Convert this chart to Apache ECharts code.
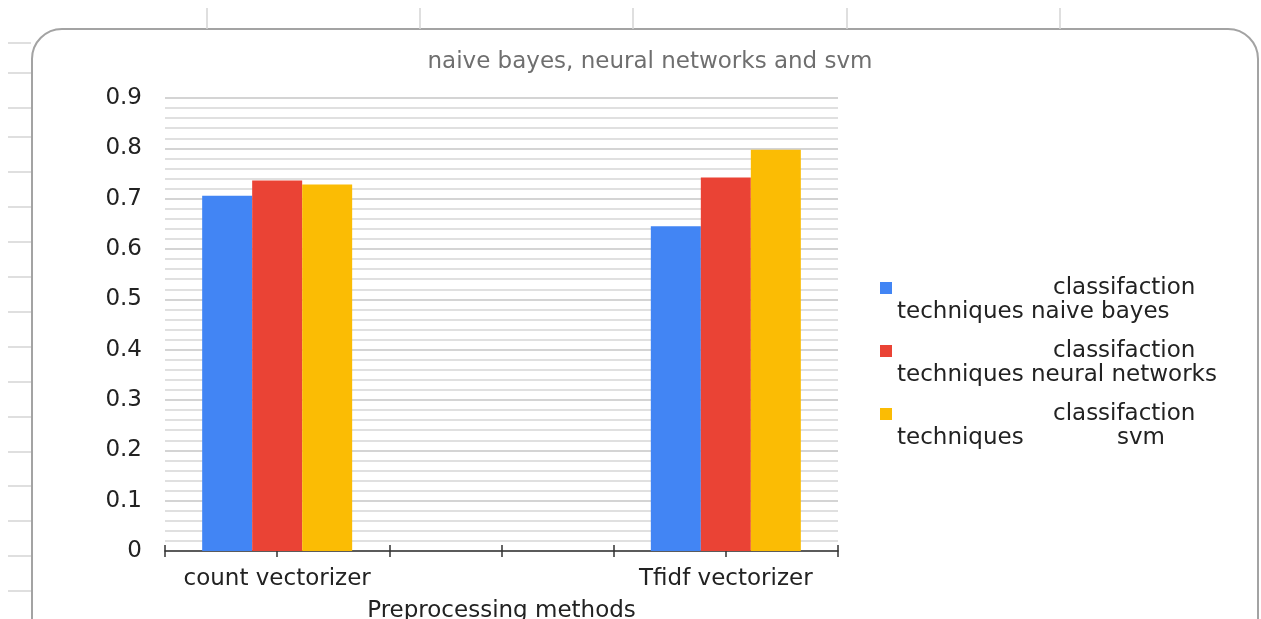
<!DOCTYPE html>
<html>
<head>
<meta charset="utf-8">
<script src="https://cdn.jsdelivr.net/npm/echarts@6/dist/echarts.min.js"></script>
<style>
  html, body { margin: 0; padding: 0; background: #fff; }
  #chart { width: 1261px; height: 619px; }
</style>
</head>
<body>
<div id="chart"></div>
<script>
// 数据
const categories = ['count vectorizer', '', 'Tfidf vectorizer']
const seriesNames = [
  'classifaction techniques naive bayes',
  'classifaction techniques neural networks',
  'classifaction techniques svm'
]
const naiveBayes = [0.706, null, 0.645]
const neuralNetworks = [0.736, null, 0.742]
const svm = [0.728, null, 0.797]
const seriesColors = ['#4285F4', '#EA4335', '#FBBC04']
const yMin = 0
const yMax = 0.9
const yStep = 0.1
// 半格刻度：每个类别中间也有一根刻度
const tickSlots = ['', '', '', '', '', '']

const FONT = 'DejaVu Sans'

// 背景里的表格线（装饰）
const sheetCols = [207, 420, 633, 847, 1060]
const sheetRows = [43, 73, 108, 137, 172, 207, 242, 277, 312, 347, 382, 417, 452, 486, 521, 556, 591]

const decor = [
  {
    type: 'rect',
    z: -10,
    shape: { x: 32, y: 29, width: 1226, height: 700, r: 30 },
    style: { fill: 'none', stroke: '#a3a3a3', lineWidth: 2 }
  }
]
sheetCols.forEach(x => decor.push({
  type: 'line', z: -10,
  shape: { x1: x, y1: 8, x2: x, y2: 29 },
  style: { stroke: '#d4d4d4', lineWidth: 1.5 }
}))
sheetRows.forEach(y => decor.push({
  type: 'line', z: -10,
  shape: { x1: 8, y1: y, x2: 31, y2: y },
  style: { stroke: '#d4d4d4', lineWidth: 1.5 }
}))

function legendText(name) {
  const rest = name.replace('classifaction techniques ', '')
  if (rest === 'svm') return '\n{p| }{w|classifaction}\n{t|techniques}{w|svm}'
  return '\n{p| }{w|classifaction}\n{w|techniques ' + rest + '}'
}

const option = {
  backgroundColor: '#fff',
  animation: false,
  textStyle: { fontFamily: FONT },
  title: {
    text: 'naive bayes, neural networks and svm',
    left: 645,
    top: 46,
    textAlign: 'center',
    textStyle: { fontFamily: FONT, fontSize: 23, fontWeight: 'normal', color: '#6f6f6f' }
  },
  legend: {
    orient: 'vertical',
    left: 875,
    top: 247,
    itemWidth: 12,
    itemHeight: 12,
    itemGap: -9,
    icon: 'rect',
    formatter: legendText,
    textStyle: {
      fontFamily: FONT,
      fontSize: 23,
      lineHeight: 24,
      color: '#222',
      rich: {
        p: { width: 156, fontSize: 23, lineHeight: 24 },
        t: { width: 220, fontSize: 23, lineHeight: 24, color: '#222' },
        w: { fontSize: 23, lineHeight: 24, color: '#222' }
      }
    }
  },
  grid: { left: 165, right: 423, top: 98, bottom: 68, outerBoundsMode: 'none' },
  xAxis: [
    {
      type: 'category',
      data: categories,
      axisLine: { show: true, lineStyle: { color: '#333', width: 1.5 } },
      axisTick: { show: false },
      axisLabel: { fontFamily: FONT, fontSize: 23, color: '#222', margin: 17 },
      name: 'Preprocessing methods',
      nameLocation: 'middle',
      nameGap: 49,
      nameTextStyle: { fontFamily: FONT, fontSize: 23, color: '#222' }
    },
    {
      type: 'category',
      data: tickSlots,
      position: 'bottom',
      axisLine: { show: false },
      axisTick: { show: true, length: 6, lineStyle: { color: '#333', width: 1.5 } },
      axisLabel: { show: false }
    },
    {
      type: 'category',
      data: tickSlots,
      position: 'bottom',
      axisLine: { show: false },
      axisTick: { show: true, inside: true, length: 6, lineStyle: { color: '#333', width: 1.5 } },
      axisLabel: { show: false }
    }
  ],
  yAxis: {
    type: 'value',
    min: yMin,
    max: yMax,
    interval: yStep,
    axisLine: { show: false },
    axisTick: { show: false },
    axisLabel: { fontFamily: FONT, fontSize: 23, color: '#222', margin: 23 },
    splitLine: { lineStyle: { color: '#c6c6c6', width: 1.5 } },
    minorTick: { show: false, splitNumber: 5 },
    minorSplitLine: { show: true, lineStyle: { color: '#d6d6d6', width: 1.5 } }
  },
  series: [naiveBayes, neuralNetworks, svm].map((vals, i) => ({
    name: seriesNames[i],
    type: 'bar',
    xAxisIndex: 0,
    data: vals,
    barWidth: 50,
    barGap: '0%',
    itemStyle: { color: seriesColors[i] }
  })),
  graphic: decor
}

const chart = echarts.init(document.getElementById('chart'), null, { renderer: 'canvas' })
chart.setOption(option)
window.addEventListener('resize', () => chart.resize())
</script>
</body>
</html>
